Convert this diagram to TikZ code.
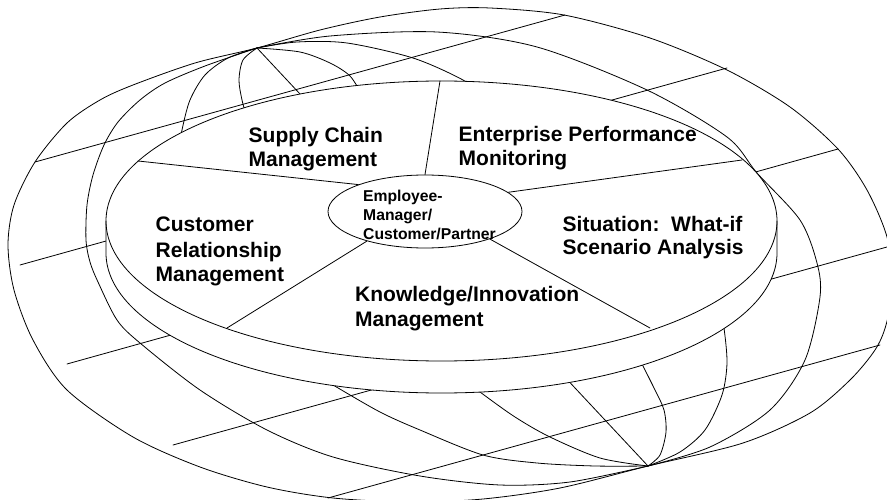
\documentclass[tikz,border=0pt]{standalone}
\usepackage{fontspec}
\setmainfont{Liberation Sans}
\usetikzlibrary{shapes.geometric}
\newcommand{\mylines}[1]{\begin{tabular}[t]{@{}l@{}}#1\end{tabular}}
\begin{document}
\begin{tikzpicture}[x=1pt,y=-1pt,
  gl/.style={line width=0.8pt, line join=round, line cap=round},
  lbl/.style={inner sep=0pt, anchor=base west, font=\bfseries\fontsize{21}{24.5}\selectfont},
  hubtxt/.style={inner sep=0pt, anchor=base west, font=\bfseries\fontsize{15.7}{19}\selectfont},
  discfill/.style={fill=white},
  hubnode/.style={draw, ellipse, fill=white, line width=0.8pt, inner sep=0pt, minimum width=194pt, minimum height=73pt}
]
\useasboundingbox (0,0) rectangle (887,500);
\fill[white] (0,0) rectangle (887,500);
\clip (0,0) rectangle (887,500);

% poles
\coordinate (np) at (257,48);
\coordinate (sp) at (648,466);

% ---------- globe ----------
% outline
\draw[gl] plot[smooth cycle] coordinates {(257,48) (320,30) (380,17) (440,9) (490,8) (564,15) (650,38) (727,70) (790,107) (838,149) (867,190) (887,237) (893,285) (886,325) (875,350) (850,380) (810,413) (743,443) (648,466) (560,488) (483,499) (410,502) (333,498) (267,487) (200,467) (133,437) (67,390) (33,340) (14,290) (8,245) (14,205) (35,162) (67,123) (100,100) (133,85) (195,63)};

% left meridians
\draw[gl] plot[smooth] coordinates {(257,48) (205,66) (165,83) (140,100) (118,122) (104,145) (93,175) (87,205) (86,240) (90,262) (98,282) (117,320) (140,343) (200,390) (267,430) (333,457) (420,476) (500,485) (570,482) (648,466)};
\draw[gl] plot[smooth] coordinates {(257,48) (228,58) (205,75) (190,100) (182,130) (178,155)};
\draw[gl] plot[smooth] coordinates {(318,376) (333,385) (380,412) (420,430) (483,455) (537,463) (595,466) (648,466)};
\draw[gl] plot[smooth] coordinates {(257,48) (243,60) (239,80) (242,100) (247,118)};
\draw[gl] plot[smooth] coordinates {(465,380) (480,392) (515,417) (550,437) (600,458) (648,466)};

% central meridian
\draw[gl] (np) -- (sp);

% right meridians
\draw[gl] plot[smooth] coordinates {(257,48) (300,52) (330,63) (350,76) (362,95)};
\draw[gl] plot[smooth] coordinates {(257,48) (297,42) (347,43) (413,58) (463,80) (490,100)};
\draw[gl] plot[smooth] coordinates {(257,48) (330,36) (437,32) (537,47) (647,90) (727,137) (757,173) (800,220) (817,263) (820,297) (805,360) (770,410) (710,447) (648,466)};
\draw[gl] plot[smooth] coordinates {(720,310) (724,328) (727,363) (722,395) (705,430) (680,452) (648,466)};
\draw[gl] plot[smooth] coordinates {(635,350) (642,364) (655,390) (664,410) (666,432) (660,455) (648,466)};

% parallels
\draw[gl] (35,162) -- (565,15);
\draw[gl] (20,265) -- (727,68);
\draw[gl] (67,364) -- (838,149);
\draw[gl] (173,445) -- (887,247);
\draw[gl] (328,498) -- (880,345);

% ---------- disc ----------
\fill[discfill] (777,221) arc[start angle=0, end angle=-180, x radius=335.5, y radius=140] -- (106,253) arc[start angle=180, end angle=0, x radius=335.5, y radius=140] -- cycle;
\draw[gl] (441.5,221) ellipse [x radius=335.5, y radius=140];
\draw[gl] (106,221) -- (106,253) arc[start angle=180, end angle=0, x radius=335.5, y radius=140] -- (777,221);

% rim points
\coordinate (r1) at (138,161);
\coordinate (r2) at (440,81);
\coordinate (r3) at (742,160);
\coordinate (r4) at (650,328);
\coordinate (r5) at (227,328);

\node[hubnode] (hub) at (425,211.5) {};

\draw[gl] (r1) -- (hub.158.4);
\draw[gl] (r2) -- (hub.90);
\draw[gl] (r3) -- (hub.13.2);
\draw[gl] (r4) -- (hub.-23.7);
\draw[gl] (r5) -- (hub.207.7);

% ---------- labels ----------
\node[hubtxt] (hubt) at (363,202) {\mylines{Employee-\\Manager/\\Customer/Partner}};
\node[lbl, font=\bfseries\fontsize{21}{24}\selectfont] (scm) at (248.5,142.7) {\mylines{Supply Chain\\Management}};
\node[lbl, font=\bfseries\fontsize{21}{24.3}\selectfont] (epm) at (458.5,141.7) {\mylines{Enterprise Performance\\Monitoring}};
\node[lbl, font=\bfseries\fontsize{21}{25}\selectfont] (crm) at (155.5,232) {\mylines{Customer\\Relationship\\Management}};
\node[lbl, font=\bfseries\fontsize{21}{24}\selectfont] (sit) at (562.5,231) {\mylines{Situation:\ \ What-if\\Scenario Analysis}};
\node[lbl, font=\bfseries\fontsize{21}{25}\selectfont] (kim) at (355,301.7) {\mylines{Knowledge/Innovation\\Management}};
\end{tikzpicture}
\end{document}
